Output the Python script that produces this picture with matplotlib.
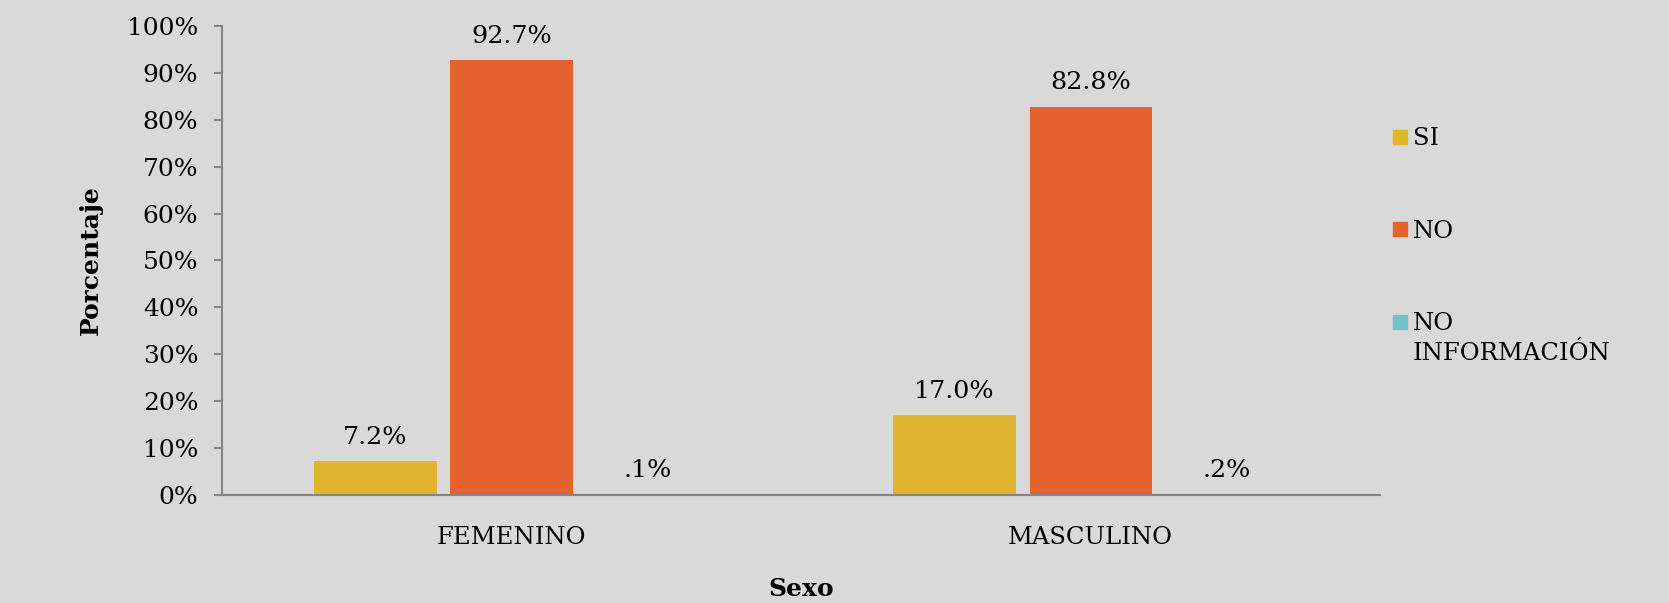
import numpy as np
import matplotlib
matplotlib.use("Agg")
import matplotlib.pyplot as plt
from matplotlib.patches import Rectangle
from matplotlib.ticker import PercentFormatter

categorias = ["FEMENINO", "MASCULINO"]
series = ["SI", "NO", "NO\nINFORMACIÓN"]
valores = {
    "SI": [7.2, 17.0],
    "NO": [92.7, 82.8],
    "NO\nINFORMACIÓN": [0.1, 0.2],
}
etiquetas = {
    "SI": ["7.2%", "17.0%"],
    "NO": ["92.7%", "82.8%"],
    "NO\nINFORMACIÓN": [".1%", ".2%"],
}
colores = ["#E0B530", "#E6622E", "#74C2C8"]

plt.rcParams["font.family"] = ["DejaVu Serif"]
fondo = "#D9D9D9"
W, H = 1669, 603

fig = plt.figure(figsize=(W / 100, H / 100), dpi=100, facecolor=fondo)
ax = fig.add_axes([0.133, 0.179, 0.694, 0.778])
ax.set_facecolor(fondo)

x = np.arange(len(categorias))
ancho = 0.211
paso = 0.235
for i, (s, c) in enumerate(zip(series, colores)):
    pos = x + (i - 1) * paso
    ax.bar(pos, valores[s], width=ancho, color=c, label=s)
    for xi, v, t in zip(pos, valores[s], etiquetas[s]):
        ax.annotate(t, (xi, v), xytext=(0, 9), textcoords="offset points",
                    ha="center", va="bottom", fontsize=18.3)

ax.set_xlim(-0.5, 1.5)
ax.set_ylim(0, 100)
ax.set_yticks(np.arange(0, 101, 10))
ax.yaxis.set_major_formatter(PercentFormatter(decimals=0))
ax.set_xticks(x)
ax.set_xticklabels(categorias)

for lado in ["top", "right"]:
    ax.spines[lado].set_visible(False)
for lado in ["left", "bottom"]:
    ax.spines[lado].set_color("#868686")
    ax.spines[lado].set_linewidth(1.5)
ax.tick_params(axis="y", labelsize=18, length=6, width=1.5, color="#868686", pad=11)
ax.tick_params(axis="x", labelsize=17.5, length=0, pad=22)

ax.set_ylabel("Porcentaje", fontsize=18, fontweight="bold")
ax.yaxis.set_label_coords(-0.103, 0.5)
ax.set_xlabel("Sexo", fontsize=18, fontweight="bold")
ax.xaxis.set_label_coords(0.5, -0.175)

# leyenda a mano: el cuadro se alinea con la primera linea del texto
lx, ly, lpaso, lado_px = 1393, 137, 92.5, 14
for i, (s, c) in enumerate(zip(series, colores)):
    yc = ly + i * lpaso
    fig.patches.append(Rectangle((lx / W, 1 - (yc + lado_px / 2) / H),
                                 lado_px / W, lado_px / H, color=c,
                                 transform=fig.transFigure))
    fig.text((lx + lado_px + 6) / W, 1 - (yc - 10) / H, s, fontsize=17.5,
             va="top", ha="left", linespacing=1.4)

fig.savefig("out.png", dpi=100, facecolor=fondo)
